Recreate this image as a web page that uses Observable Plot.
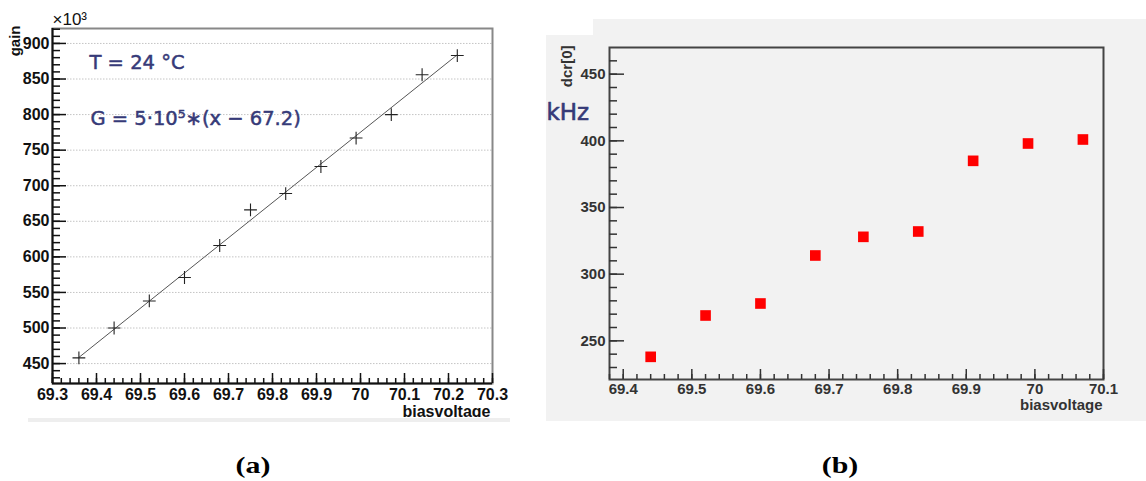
<!DOCTYPE html>
<html><head><meta charset="utf-8">
<script src="https://cdn.jsdelivr.net/npm/d3@7"></script>
<script src="https://cdn.jsdelivr.net/npm/@observablehq/plot@0.6"></script>
<style>
body{margin:0;background:#fff;}
#root{position:relative;width:1146px;height:481px;overflow:hidden;background:#fff;}
.abs{position:absolute;}
.cap{position:absolute;top:453px;font-family:'Liberation Serif','Times New Roman',serif;font-weight:bold;font-size:23px;width:60px;text-align:center;transform:scaleX(1.3);}
</style></head><body><div id="root"></div>
<script>
// ---------- Panel (a): gain vs bias voltage ----------
const gainVoltage = [69.36, 69.44, 69.52, 69.60, 69.68, 69.75, 69.83, 69.91, 69.99, 70.07, 70.14, 70.22];
const gainValues  = [458, 500, 538, 571, 616, 666, 689, 727, 767, 800, 856, 883];
const gainYTicks  = [450, 500, 550, 600, 650, 700, 750, 800, 850, 900];
const gainXTicks  = [69.3, 69.4, 69.5, 69.6, 69.7, 69.8, 69.9, 70, 70.1, 70.2, 70.3];
const gainYMinor  = d3.range(43, 93).map(d => d * 10);
const gainXMinor  = d3.range(0, 51).map(i => +(69.3 + i * 0.02).toFixed(2));
const gainXDomain = [69.3, 70.3];
const gainYDomain = [422, 921];
const annotationA = ["T = 24 °C", "G = 5·10⁵∗(x − 67.2)"];

// ---------- Panel (b): dark count rate vs bias voltage ----------
const dcrVoltage = [69.44, 69.52, 69.60, 69.68, 69.75, 69.83, 69.91, 69.99, 70.07];
const dcrValues  = [238, 269, 278, 314, 328, 332, 385, 398, 401];
const dcrYTicks  = [250, 300, 350, 400, 450];
const dcrXTicks  = [69.4, 69.5, 69.6, 69.7, 69.8, 69.9, 70, 70.1];
const dcrYMinor  = d3.range(23, 47).map(d => d * 10);
const dcrXMinor  = d3.range(0, 37).map(i => +(69.38 + i * 0.02).toFixed(2));
const dcrXDomain = [69.38, 70.1];
const dcrYDomain = [221, 470];

const navy = "#363a78";
const sans = "'Liberation Sans', Arial, Helvetica, sans-serif";
const gainData = gainVoltage.map((x, i) => ({x, y: gainValues[i]}));
const dcrData = dcrVoltage.map((x, i) => ({x, y: dcrValues[i]}));
const root = document.getElementById("root");

// frame sizes (pixels) used for tick-length insets
const A = {w: 520, h: 430, ml: 52, mt: 28, mr: 28, mb: 47};
const Aw = A.w - A.ml - A.mr, Ah = A.h - A.mt - A.mb;
const B = {w: 600, h: 430, ml: 63, mt: 47, mr: 43, mb: 51};
const Bw = B.w - B.ml - B.mr, Bh = B.h - B.mt - B.mb;
const id = d => d;

const plotA = Plot.plot({
  width: A.w, height: A.h,
  marginLeft: A.ml, marginTop: A.mt, marginRight: A.mr, marginBottom: A.mb,
  style: {fontFamily: sans, fontSize: "16px", fontWeight: "bold", color: "#111", background: "transparent", overflow: "visible"},
  x: {domain: gainXDomain, ticks: gainXTicks, tickSize: 0, tickPadding: 5, tickFormat: d3.format(""), label: null},
  y: {domain: gainYDomain, ticks: gainYTicks, tickSize: 0, tickPadding: 3, tickFormat: d3.format(""), label: null},
  marks: [
    Plot.ruleY(gainYTicks, {y: id, stroke: "#c4c4c4", strokeDasharray: "1.5,1.5"}),
    Plot.frame({stroke: "#888", strokeWidth: 2}),
    Plot.ruleX([gainXDomain[0]], {x: id, stroke: "#111", strokeWidth: 2}),
    Plot.ruleY([gainYDomain[0]], {y: id, stroke: "#111", strokeWidth: 2}),
    Plot.tickY(gainYMinor, {y: id, insetRight: Aw - 8, stroke: "#111", strokeWidth: 1.5}),
    Plot.tickY(gainYTicks, {y: id, insetRight: Aw - 14, stroke: "#111", strokeWidth: 1.5}),
    Plot.tickX(gainXMinor, {x: id, insetTop: Ah - 5, stroke: "#111", strokeWidth: 1.5}),
    Plot.tickX(gainXTicks, {x: id, insetTop: Ah - 10, stroke: "#111", strokeWidth: 1.5}),
    Plot.linearRegressionY(gainData, {x: "x", y: "y", ci: 0, stroke: "#555", strokeWidth: 1}),
    Plot.dot(gainData, {x: "x", y: "y", symbol: "plus", r: 4.2, stroke: "#222", strokeWidth: 1.1}),
    Plot.text([annotationA[0]], {text: id, frameAnchor: "top-left", dx: 37, dy: 34, textAnchor: "start", lineAnchor: "middle", fontFamily: "DejaVu Sans", fontSize: 19.5, fontWeight: "normal", fill: navy, stroke: navy, strokeWidth: 0.5}),
    Plot.text([annotationA[1]], {text: id, frameAnchor: "top-left", dx: 38, dy: 90, textAnchor: "start", lineAnchor: "middle", fontFamily: "DejaVu Sans", fontSize: 19.5, fontWeight: "normal", fill: navy, stroke: navy, strokeWidth: 0.5}),
    Plot.text(["×10³"], {text: id, frameAnchor: "top-left", dx: 0, dy: -9, textAnchor: "start", lineAnchor: "middle", fontSize: 17, fontWeight: "normal", fill: "#111"}),
    Plot.text(["gain"], {text: id, frameAnchor: "top-left", rotate: -90, dx: -37, dy: -3, textAnchor: "end", lineAnchor: "middle", fontSize: 15, fill: "#111"}),
    Plot.text(["biasvoltage"], {text: id, frameAnchor: "bottom-right", dx: -2, dy: 28, textAnchor: "end", lineAnchor: "middle", fontSize: 16, fill: "#111"})
  ]
});

const plotB = Plot.plot({
  width: B.w, height: B.h,
  marginLeft: B.ml, marginTop: B.mt, marginRight: B.mr, marginBottom: B.mb,
  style: {fontFamily: sans, fontSize: "15px", fontWeight: "bold", color: "#333", background: "transparent", overflow: "visible"},
  x: {domain: dcrXDomain, ticks: dcrXTicks, tickSize: 0, tickPadding: 4, tickFormat: d3.format(""), label: null},
  y: {domain: dcrYDomain, ticks: dcrYTicks, tickSize: 0, tickPadding: 4, tickFormat: d3.format(""), label: null},
  marks: [
    Plot.frame({stroke: "#444", strokeWidth: 2}),
    Plot.tickY(dcrYMinor, {y: id, insetRight: Bw - 8, stroke: "#333", strokeWidth: 1.5}),
    Plot.tickY(dcrYTicks, {y: id, insetRight: Bw - 15, stroke: "#333", strokeWidth: 1.5}),
    Plot.tickX(dcrXMinor, {x: id, insetTop: Bh - 5, stroke: "#333", strokeWidth: 1.5}),
    Plot.tickX(dcrXTicks, {x: id, insetTop: Bh - 10, stroke: "#333", strokeWidth: 1.5}),
    Plot.dot(dcrData, {x: "x", y: "y", symbol: "square", r: 6, fill: "#ff0000"}),
    Plot.text(["dcr[0]"], {text: id, frameAnchor: "top-left", rotate: -90, dx: -42, dy: -2, textAnchor: "end", lineAnchor: "middle", fontSize: 15, fill: "#333"}),
    Plot.text(["kHz"], {text: id, frameAnchor: "top-left", dx: -63, dy: 65, textAnchor: "start", lineAnchor: "middle", fontFamily: "DejaVu Sans", fontSize: 23, fontWeight: "normal", fill: navy, stroke: navy, strokeWidth: 0.6}),
    Plot.text(["biasvoltage"], {text: id, frameAnchor: "bottom-right", dx: -1, dy: 26, textAnchor: "end", lineAnchor: "middle", fontSize: 15, fill: "#333"})
  ]
});

// make the axes' own tick labels bold (they do not pick up the weight by themselves)
function boldAxisText(svg, size, color) {
  svg.querySelectorAll("text").forEach(t => {
    if (t.closest('[aria-label="text"]')) return;
    t.setAttribute("font-weight", "bold");
    t.setAttribute("font-family", sans);
    t.setAttribute("font-size", size);
    t.setAttribute("fill", color);
    t.style.fontWeight = "700";
    t.style.fontFamily = sans;
    t.style.fontSize = size + "px";
  });
}
boldAxisText(plotA, 16, "#111");
boldAxisText(plotB, 15, "#333");

function addDiv(style, content) {
  const d = document.createElement("div");
  d.className = "abs";
  Object.assign(d.style, style);
  if (content) d.appendChild(content);
  root.appendChild(d);
  return d;
}
// panel (b) background
addDiv({left: "546px", top: "35px", width: "600px", height: "386px", background: "#f2f2f2"});
addDiv({left: "593px", top: "19px", width: "553px", height: "16px", background: "#f2f2f2"});
// panel (a) clipped image area and its lower edge
addDiv({left: "0px", top: "0px", width: "520px", height: "417px", overflow: "hidden"}, plotA);
addDiv({left: "28px", top: "418px", width: "482px", height: "4px", background: "#eeeeee"});
addDiv({left: "546px", top: "0px", width: "600px", height: "430px"}, plotB);

const capA = document.createElement("div"); capA.className = "cap"; capA.style.left = "223px"; capA.textContent = "(a)"; root.appendChild(capA);
const capB = document.createElement("div"); capB.className = "cap"; capB.style.left = "810px"; capB.textContent = "(b)"; root.appendChild(capB);
</script></body></html>
